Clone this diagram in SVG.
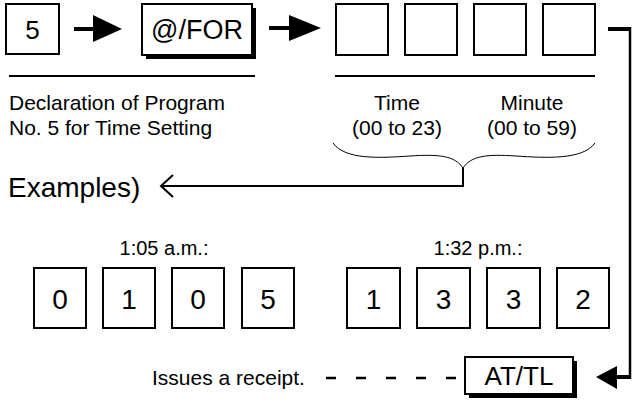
<svg xmlns="http://www.w3.org/2000/svg" width="634" height="410" viewBox="0 0 634 410">
<style>
  text { font-family: "Liberation Sans", Arial, sans-serif; fill: #000; }
  .key { fill: #fff; stroke: #000; stroke-width: 2; }
  .shadow { fill: #000; }
  .big { font-size: 26px; text-anchor: middle; }
  .digit { font-size: 28px; text-anchor: middle; }
  .lbl { font-size: 21px; }
  .mid { text-anchor: middle; }
  .thick { stroke: #000; stroke-width: 4; fill: none; }
  .thin { stroke: #000; stroke-width: 2; fill: none; }
</style>
<rect width="634" height="410" fill="#fff"/>

<g id="key5">
  <rect class="key" x="6" y="4" width="53" height="50"/>
  <text class="big" x="32.5" y="39">5</text>
</g>
<g id="keyFOR">
  <rect class="shadow" x="146" y="8" width="110" height="51"/>
  <rect class="key" x="142" y="4" width="110" height="51"/>
  <text class="big" x="197" y="39" style="font-size:27px">@/FOR</text>
</g>
<g id="entry1"><rect class="key" x="336" y="4" width="52" height="51"/></g>
<g id="entry2"><rect class="key" x="405" y="4" width="52" height="51"/></g>
<g id="entry3"><rect class="key" x="474" y="4" width="52" height="51"/></g>
<g id="entry4"><rect class="key" x="543" y="4" width="52" height="51"/></g>

<g id="declaration">
  <line class="thin" x1="9" y1="76" x2="255" y2="76"/>
  <text class="lbl" x="9" y="110">Declaration of Program</text>
  <text class="lbl" x="9" y="135">No. 5 for Time Setting</text>
</g>
<g id="timeLabels">
  <line class="thin" x1="335" y1="76" x2="595" y2="76"/>
  <text class="lbl mid" x="397" y="110">Time</text>
  <text class="lbl mid" x="397" y="135">(00 to 23)</text>
  <text class="lbl mid" x="532" y="110">Minute</text>
  <text class="lbl mid" x="532" y="135">(00 to 59)</text>
  <path d="M333,143 C345,160 380,158 410,156 C440,154 455,156 463,168 C471,156 486,154 516,156 C546,158 583,160 595,143" fill="none" stroke="#000" stroke-width="1"/>
</g>

<g id="examplesLabel">
  <text x="8" y="197" style="font-size:28px">Examples)</text>
</g>

<g id="example1">
  <text class="lbl mid" x="164" y="255" style="font-size:20px">1:05 a.m.:</text>
  <rect class="key" x="34" y="268" width="52" height="60"/>
  <text class="digit" x="60" y="309">0</text>
  <rect class="key" x="103" y="268" width="52" height="60"/>
  <text class="digit" x="129" y="309">1</text>
  <rect class="key" x="172" y="268" width="52" height="60"/>
  <text class="digit" x="198" y="309">0</text>
  <rect class="key" x="242" y="268" width="52" height="60"/>
  <text class="digit" x="268" y="309">5</text>
</g>
<g id="example2">
  <text class="lbl mid" x="478" y="255" style="font-size:20px">1:32 p.m.:</text>
  <rect class="key" x="347" y="268" width="53" height="60"/>
  <text class="digit" x="373.5" y="309">1</text>
  <rect class="key" x="417" y="268" width="53" height="60"/>
  <text class="digit" x="443.5" y="309">3</text>
  <rect class="key" x="487" y="268" width="53" height="60"/>
  <text class="digit" x="513.5" y="309">3</text>
  <rect class="key" x="557" y="268" width="52" height="60"/>
  <text class="digit" x="583" y="309">2</text>
</g>

<g id="keyATTL">
  <rect class="shadow" x="469" y="361" width="108" height="37"/>
  <rect class="key" x="465" y="357" width="108" height="37"/>
  <text class="big" x="519" y="385">AT/TL</text>
</g>
<g id="receiptLabel">
  <text x="152" y="385" style="font-size:21px">Issues a receipt.</text>
</g>

<g id="connectors">
  <line class="thick" x1="74" y1="29" x2="96" y2="29"/>
  <polygon points="93,15 122,29 93,42"/>
  <line class="thick" x1="269" y1="28" x2="291" y2="28"/>
  <polygon points="289,15 321,28 289,41"/>
  <polyline class="thick" points="608,29 630,29" />
  <line x1="630" y1="27" x2="630" y2="379" stroke="#000" stroke-width="2.5"/>
  <line class="thick" x1="631" y1="377" x2="612" y2="377"/>
  <polygon points="617,366 596,377 617,389"/>
  <polyline class="thin" points="463,168 463,186 161,186"/>
  <polyline class="thin" points="173,175 161,186 173,197"/>
  <line x1="326" y1="378" x2="457" y2="378" stroke="#000" stroke-width="2.5" stroke-dasharray="10,20"/>
</g>
</svg>
